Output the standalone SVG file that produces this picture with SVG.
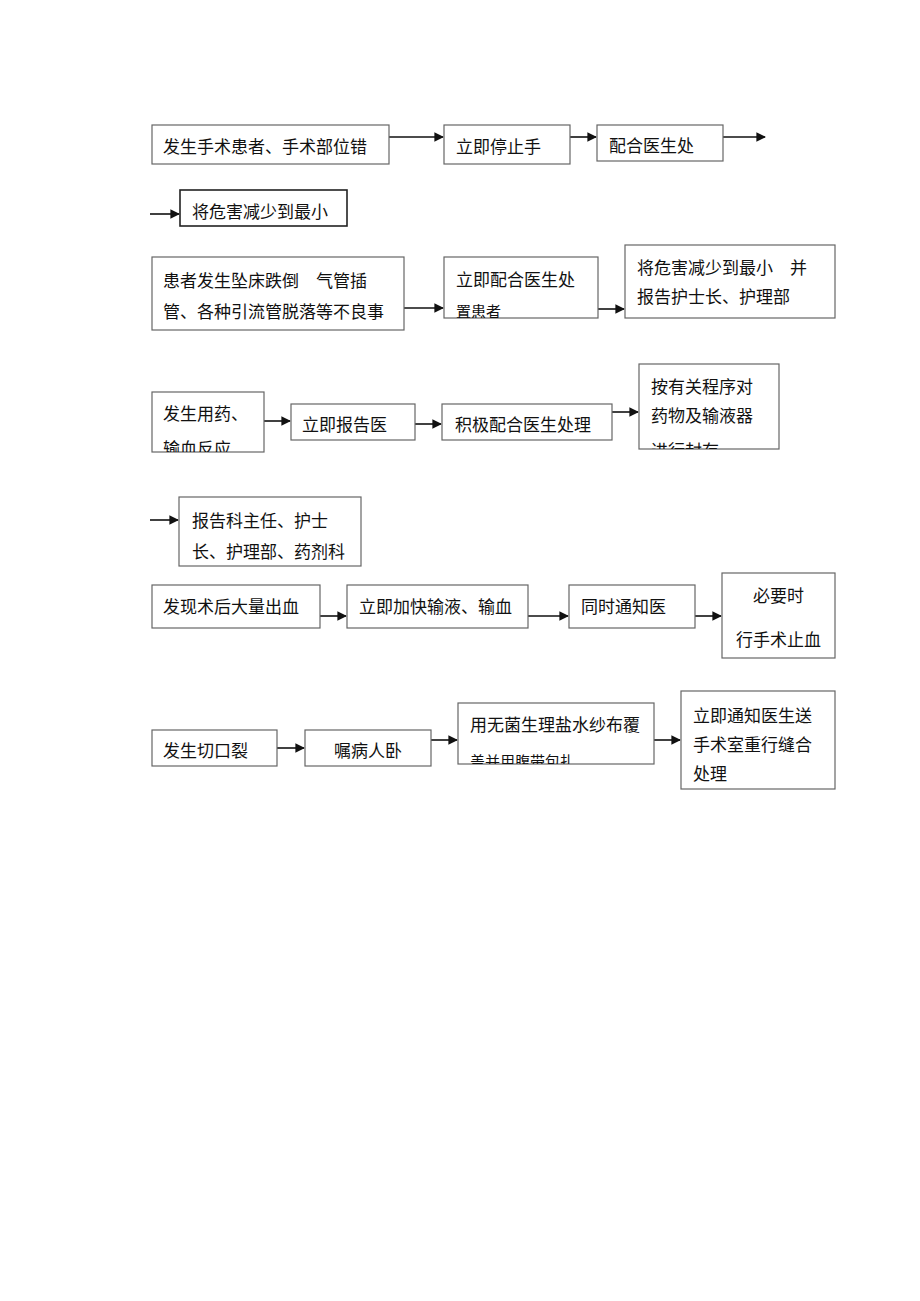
<svg xmlns="http://www.w3.org/2000/svg" width="920" height="1301" viewBox="0 0 920 1301">
<style>
.box{fill:#fff;stroke:#666;stroke-width:1.2}
.bold{fill:#fff;stroke:#222;stroke-width:1.6}
.t{font-family:"Noto Sans CJK SC","Noto Sans",sans-serif;font-size:17px;fill:#111}
.s{font-family:"Noto Sans CJK SC","Noto Sans",sans-serif;font-size:15px;fill:#111}
.c line{stroke:#111;stroke-width:1.6;marker-end:url(#ah)}
</style>
<defs>
<marker id="ah" viewBox="0 0 10 10" refX="9" refY="5" markerWidth="6" markerHeight="6" orient="auto" markerUnits="strokeWidth">
<path d="M0,0 L10,5 L0,10 z" fill="#111"/>
</marker>
<clipPath id="cF"><rect x="444" y="257" width="154" height="61"/></clipPath>
<clipPath id="cH"><rect x="152" y="392" width="112" height="60"/></clipPath>
<clipPath id="cK"><rect x="639" y="364" width="140" height="85"/></clipPath>
<clipPath id="cS"><rect x="458" y="703" width="196" height="61"/></clipPath>
</defs>
<rect width="920" height="1301" fill="#fff"/>

<g class="c" id="connectors">
<line x1="389" y1="137" x2="443" y2="137"/>
<line x1="570" y1="137" x2="596" y2="137"/>
<line x1="723" y1="137" x2="765" y2="137"/>
<line x1="150" y1="214" x2="179" y2="214"/>
<line x1="404" y1="308" x2="443" y2="308"/>
<line x1="598" y1="309" x2="624" y2="309"/>
<line x1="264" y1="421" x2="290" y2="421"/>
<line x1="415" y1="424" x2="441" y2="424"/>
<line x1="612" y1="412" x2="638" y2="412"/>
<line x1="150" y1="520" x2="178" y2="520"/>
<line x1="320" y1="616" x2="346" y2="616"/>
<line x1="528" y1="616" x2="568" y2="616"/>
<line x1="695" y1="616" x2="721" y2="616"/>
<line x1="277" y1="748" x2="304" y2="748"/>
<line x1="431" y1="740" x2="457" y2="740"/>
<line x1="654" y1="740" x2="680" y2="740"/>
</g>

<g id="nA"><rect class="box" x="152" y="125" width="237" height="39"/><text class="t" x="163" y="153">发生手术患者、手术部位错</text></g>
<g id="nB"><rect class="box" x="444" y="125" width="126" height="39"/><text class="t" x="456" y="153">立即停止手</text></g>
<g id="nC"><rect class="box" x="597" y="125" width="126" height="36"/><text class="t" x="609" y="152">配合医生处</text></g>
<g id="nD"><rect class="bold" x="180" y="190" width="167" height="36"/><text class="t" x="192" y="218">将危害减少到最小</text></g>

<g id="nE"><rect class="box" x="152" y="257" width="252" height="73"/><text class="t" x="163" y="287">患者发生坠床跌倒　气管插</text><text class="t" x="163" y="318">管、各种引流管脱落等不良事</text></g>
<g id="nF"><rect class="box" x="444" y="257" width="154" height="61"/><text class="t" x="456" y="286">立即配合医生处</text><g clip-path="url(#cF)"><text class="s" x="456" y="317">置患者</text></g></g>
<g id="nG"><rect class="box" x="625" y="245" width="210" height="73"/><text class="t" x="637" y="274">将危害减少到最小　并</text><text class="t" x="637" y="303">报告护士长、护理部</text></g>

<g id="nH"><rect class="box" x="152" y="392" width="112" height="60"/><text class="t" x="163" y="420">发生用药、</text><g clip-path="url(#cH)"><text class="t" x="163" y="455">输血反应</text></g></g>
<g id="nI"><rect class="box" x="291" y="404" width="124" height="36"/><text class="t" x="302" y="431">立即报告医</text></g>
<g id="nJ"><rect class="box" x="442" y="404" width="170" height="36"/><text class="t" x="455" y="431">积极配合医生处理</text></g>
<g id="nK"><rect class="box" x="639" y="364" width="140" height="85"/><text class="t" x="651" y="393">按有关程序对</text><text class="t" x="651" y="422">药物及输液器</text><g clip-path="url(#cK)"><text class="t" x="651" y="457">进行封存</text></g></g>

<g id="nL"><rect class="box" x="179" y="497" width="182" height="69"/><text class="t" x="192" y="527">报告科主任、护士</text><text class="t" x="192" y="558">长、护理部、药剂科</text></g>

<g id="nM"><rect class="box" x="152" y="585" width="168" height="43"/><text class="t" x="163" y="613">发现术后大量出血</text></g>
<g id="nN"><rect class="box" x="347" y="585" width="181" height="43"/><text class="t" x="359" y="613">立即加快输液、输血</text></g>
<g id="nO"><rect class="box" x="569" y="585" width="126" height="43"/><text class="t" x="581" y="613">同时通知医</text></g>
<g id="nP"><rect class="box" x="722" y="573" width="113" height="85"/><text class="t" x="778.5" y="602" text-anchor="middle">必要时</text><text class="t" x="778.5" y="646" text-anchor="middle">行手术止血</text></g>

<g id="nQ"><rect class="box" x="152" y="730" width="125" height="36"/><text class="t" x="163" y="757">发生切口裂</text></g>
<g id="nR"><rect class="box" x="305" y="730" width="126" height="36"/><text class="t" x="334" y="757">嘱病人卧</text></g>
<g id="nS"><rect class="box" x="458" y="703" width="196" height="61"/><text class="t" x="470" y="731">用无菌生理盐水纱布覆</text><g clip-path="url(#cS)"><text class="s" x="470" y="767">盖并用腹带包扎.</text></g></g>
<g id="nT"><rect class="box" x="681" y="691" width="154" height="98"/><text class="t" x="693" y="722">立即通知医生送</text><text class="t" x="693" y="751">手术室重行缝合</text><text class="t" x="693" y="780">处理</text></g>
</svg>
